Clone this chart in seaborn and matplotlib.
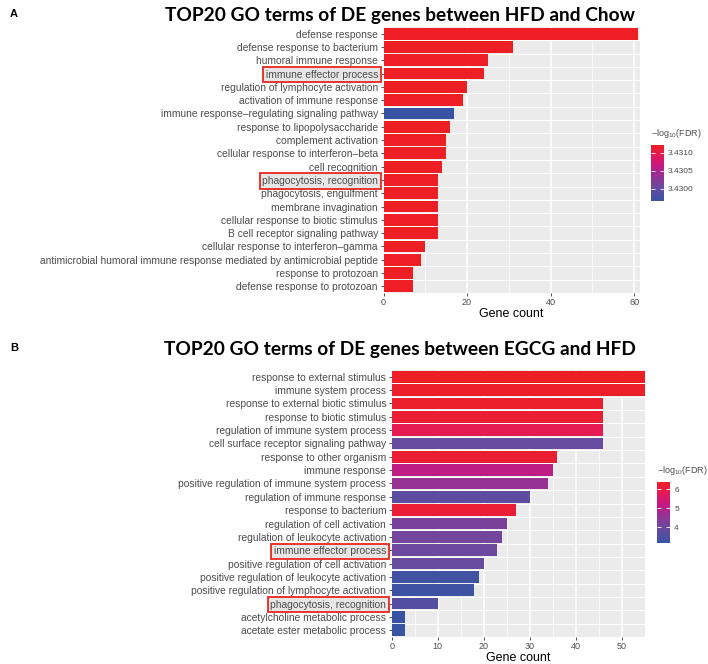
#!/usr/bin/env python3
"""
TOP20 GO terms bar charts (HFD vs Chow, EGCG vs HFD), ggplot-like look with seaborn
"""

import numpy as np
import pandas as pd
import matplotlib
matplotlib.use("Agg")
import matplotlib.pyplot as plt
import seaborn as sns
from matplotlib.colors import LinearSegmentedColormap, Normalize
from matplotlib.cm import ScalarMappable
from matplotlib.ticker import MultipleLocator

# ---- data: panel A (HFD vs Chow) ----
terms_a = [
    "defense response", "defense response to bacterium", "humoral immune response",
    "immune effector process", "regulation of lymphocyte activation",
    "activation of immune response", "immune response\u2013regulating signaling pathway",
    "response to lipopolysaccharide", "complement activation",
    "cellular response to interferon\u2013beta", "cell recognition",
    "phagocytosis, recognition", "phagocytosis, engulfment", "membrane invagination",
    "cellular response to biotic stimulus", "B cell receptor signaling pathway",
    "cellular response to interferon\u2013gamma",
    "antimicrobial humoral immune response mediated by antimicrobial peptide",
    "response to protozoan", "defense response to protozoan",
]
count_a = [61, 31, 25, 24, 20, 19, 17, 16, 15, 15, 14, 13, 13, 13, 13, 13, 10, 9, 7, 7]
fdr_a = [3.43121, 3.43121, 3.43121, 3.43121, 3.43121, 3.43121, 3.42966, 3.43121,
         3.43121, 3.43121, 3.43121, 3.43121, 3.43121, 3.43121, 3.43121, 3.43121,
         3.43121, 3.43121, 3.43121, 3.43121]

# ---- data: panel B (EGCG vs HFD) ----
terms_b = [
    "response to external stimulus", "immune system process",
    "response to external biotic stimulus", "response to biotic stimulus",
    "regulation of immune system process", "cell surface receptor signaling pathway",
    "response to other organism", "immune response",
    "positive regulation of immune system process", "regulation of immune response",
    "response to bacterium", "regulation of cell activation",
    "regulation of leukocyte activation", "immune effector process",
    "positive regulation of cell activation", "positive regulation of leukocyte activation",
    "positive regulation of lymphocyte activation", "phagocytosis, recognition",
    "acetylcholine metabolic process", "acetate ester metabolic process",
]
count_b = [55, 55, 46, 46, 46, 46, 36, 35, 34, 30, 27, 25, 24, 23, 20, 19, 18, 10, 3, 3]
fdr_b = [6.37, 6.3, 6.25, 6.2, 5.85, 3.9, 6.2, 5.1, 4.6, 3.75, 6.15, 4.2, 4.1, 4.0,
         3.9, 3.3, 3.25, 3.6, 3.17, 3.17]

highlight = ["immune effector process", "phagocytosis, recognition"]

# blue -> purple -> magenta -> red, as printed in the figure
cmap = LinearSegmentedColormap.from_list("fdr", [
    (0.00, "#3953A4"),
    (0.25, "#6A4A9E"),
    (0.50, "#A32A90"),
    (0.65, "#C9177F"),
    (0.82, "#E31A55"),
    (1.00, "#ED1F24"),
])

plt.rcParams["font.family"] = ["Liberation Sans", "DejaVu Sans"]


def draw_panel(fig, rect, terms, counts, fdr, xmax, major, cbar_rect, cbar_ticks, cbar_fmt):
    ax = fig.add_axes(rect)
    norm = Normalize(vmin=min(fdr), vmax=max(fdr))
    colors = [cmap(norm(v)) for v in fdr]
    df = pd.DataFrame({"term": terms, "count": counts})

    ax.set_facecolor("#EBEBEB")
    sns.barplot(data=df, x="count", y="term", hue="term", palette=colors, legend=False,
                width=0.88, saturation=1, linewidth=0, ax=ax, zorder=3)

    ax.set_xlim(0, xmax)
    ax.set_ylim(len(terms) - 0.5, -0.5)
    ax.xaxis.set_major_locator(MultipleLocator(major))
    ax.xaxis.set_minor_locator(MultipleLocator(major / 2))
    ax.grid(False)
    for x in np.arange(0, xmax + 0.01, major):
        ax.axvline(x, color="white", lw=1.1, zorder=1)
    for x in np.arange(major / 2, xmax, major):
        ax.axvline(x, color="white", lw=0.5, zorder=1)
    for i in range(len(terms) - 1):
        ax.axhline(i + 0.5, color="white", lw=0.8, zorder=1)

    for s in ax.spines.values():
        s.set_visible(False)
    ax.tick_params(axis="both", which="major", length=2.5, width=0.6, color="#333333",
                   labelcolor="#4D4D4D", pad=1.5)
    ax.tick_params(axis="x", which="minor", length=0)
    ax.tick_params(axis="y", labelsize=7.4)
    ax.tick_params(axis="x", labelsize=6.5, pad=1)
    ax.set_ylabel("")
    ax.set_xlabel("Gene count", fontsize=9, color="black", labelpad=0.5)

    for lab in ax.get_yticklabels():
        if lab.get_text() in highlight:
            lab.set_bbox(dict(facecolor="#E6E6E6", edgecolor="#E8261F", lw=1.3,
                              boxstyle="square,pad=0.25"))

    # colour bar
    cax = fig.add_axes(cbar_rect)
    sm = ScalarMappable(norm=norm, cmap=cmap)
    cb = fig.colorbar(sm, cax=cax, ticks=cbar_ticks, format=cbar_fmt)
    cb.outline.set_visible(False)
    cax.tick_params(which="both", direction="in", length=3, width=0.6, color="white",
                    labelcolor="#4D4D4D", labelsize=6, left=True, right=True, pad=3)
    cax.minorticks_off()
    fig.text(cbar_rect[0], cbar_rect[1] + cbar_rect[3] + 0.008,
             r"$\mathregular{-log_{10}}$(FDR)", fontsize=6.5, color="#4D4D4D",
             ha="left", va="bottom")
    return ax


W, H = 708, 664
fig = plt.figure(figsize=(W / 100, H / 100), dpi=100)
fig.patch.set_facecolor("white")


def fx(px):
    return px / W


def fy(py):
    return 1 - py / H


# panel A
draw_panel(fig, [fx(383.5), fy(293), fx(639.5 - 383.5), (293 - 27) / H],
           terms_a, count_a, fdr_a, 61.3, 20,
           [fx(651), fy(201), 13 / W, 56 / H], [3.4300, 3.4305, 3.4310], "%.4f")

# panel B
draw_panel(fig, [fx(391.7), fy(637), fx(645 - 391.7), (637 - 370) / H],
           terms_b, count_b, fdr_b, 55.1, 10,
           [fx(657), fy(543), 13 / W, 61 / H], [4, 5, 6], "%d")

title_font = dict(family=["Lato", "DejaVu Sans"], fontweight="bold", fontsize=13.8)
fig.text(fx(400), fy(16), "TOP20 GO terms of DE genes between HFD and Chow",
         ha="center", va="center", **title_font)
fig.text(fx(400), fy(349), "TOP20 GO terms of DE genes between EGCG and HFD",
         ha="center", va="center", **title_font)
fig.text(fx(14), fy(14), "A", ha="center", va="center", fontsize=8, fontweight="bold")
fig.text(fx(14), fy(348), "B", ha="center", va="center", fontsize=8, fontweight="bold")

fig.savefig("out.png", dpi=100, facecolor="white")
plt.close(fig)
